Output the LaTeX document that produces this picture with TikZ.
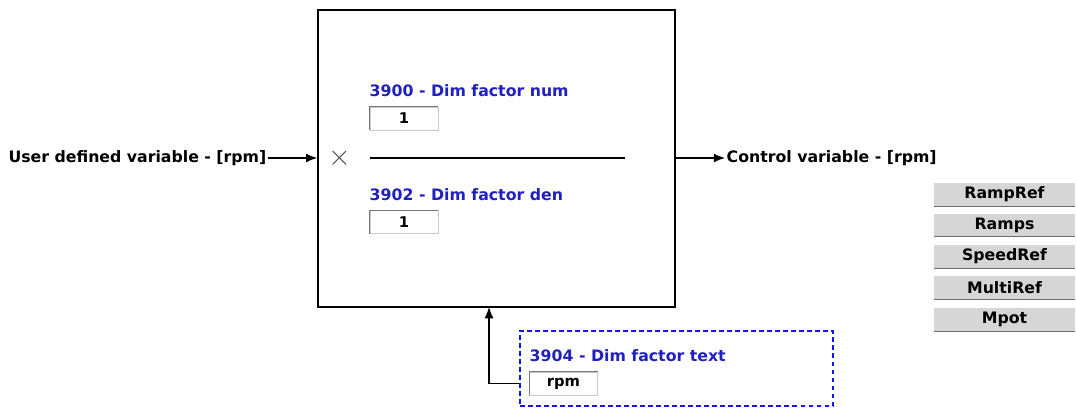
\documentclass[tikz,border=0pt]{standalone}
\usepackage{fontspec}
\setmainfont{DejaVu Sans}
\usepackage{tikz}
\usetikzlibrary{shapes, arrows.meta, positioning, calc}
\definecolor{parblue}{RGB}{32, 32, 190}
\definecolor{dashblue}{RGB}{20, 20, 240}
\definecolor{btngray}{RGB}{214, 214, 214}
\definecolor{btnedge}{RGB}{110, 110, 110}
\definecolor{valedge}{RGB}{200, 200, 200}
\definecolor{valshade}{RGB}{120, 120, 120}

\begin{document}
\begin{tikzpicture}[
  x=0.025cm, y=-0.025cm,
  blockbox/.style={rectangle, draw=black, line width=1pt, fill=white,
              minimum width=8.925cm, minimum height=7.425cm},
  sig/.style={font=\fontsize{11.2}{13}\selectfont\bfseries, text=black, inner sep=1pt},
  par/.style={font=\fontsize{11.2}{13}\selectfont\bfseries, text=parblue, inner sep=1pt},
  valbox/.style={rectangle, draw=valedge, fill=white, minimum width=1.7cm,
              minimum height=0.575cm, inner sep=0pt, font=\fontsize{10.5}{12}\selectfont\bfseries},
  dashbox/.style={rectangle, draw=dashblue, line width=1.2pt, dash pattern=on 3.5pt off 2.2pt,
              minimum width=7.825cm, minimum height=1.875cm},
  btn/.style={rectangle, fill=btngray, minimum width=3.525cm, minimum height=0.575cm,
              inner sep=0pt, font=\fontsize{11.2}{13}\selectfont\bfseries},
  arr/.style={-{Latex[length=8pt,width=6.4pt]}, line width=0.9pt, black}
]
  \useasboundingbox (0,0) rectangle (1076,408);

  % main block
  \node[blockbox] (dim) at (496.5,158.5) {};
  \node[text=black!70, font=\fontsize{20}{20}\selectfont] (mul) at (340,158) {$\times$};
  \coordinate (fracl) at (370,158);
  \coordinate (fracr) at (625,158);
  \draw[line width=0.9pt] (fracl) -- (fracr);

  % numerator and denominator
  \node[par, anchor=south west] (num) at (368,98) {3900 - Dim factor num};
  \node[valbox] (numval) at (404,118.5) {1};
  \node[par, anchor=south west] (den) at (368,202) {3902 - Dim factor den};
  \node[valbox] (denval) at (404,222) {1};

  % signals
  \node[sig, anchor=east] (in) at (268,158) {User defined variable - [rpm]};
  \node[sig, anchor=west] (out) at (725,158) {Control variable - [rpm]};
  \draw[arr] (in.east) -- (in.east -| dim.west);
  \draw[arr] (out.west -| dim.east) -- (out.west);

  % unit text
  \node[dashbox] (dash) at (676.5,368.5) {};
  \node[par, anchor=south west] (unit) at (528,363) {3904 - Dim factor text};
  \node[valbox] (unitval) at (563.5,383.5) {rpm};
  \coordinate (fb) at (489,307);
  \draw[arr] (unitval.west -| dash.west) -| (fb);

  % sunken edges of the value boxes
  \foreach \v in {numval, denval, unitval}
    \draw[valshade, line width=0.9pt] (\v.south west) |- (\v.north east);

  % menu buttons
  \foreach \name/\ypos in {RampRef/194.5, Ramps/225, SpeedRef/256.5, MultiRef/287.5, Mpot/319.5}{
    \node[btn] (b\name) at (1004.5,\ypos) {\name};
    \draw[btnedge, line width=0.9pt] (b\name.south west) -- (b\name.south east);
  }
\end{tikzpicture}
\end{document}
